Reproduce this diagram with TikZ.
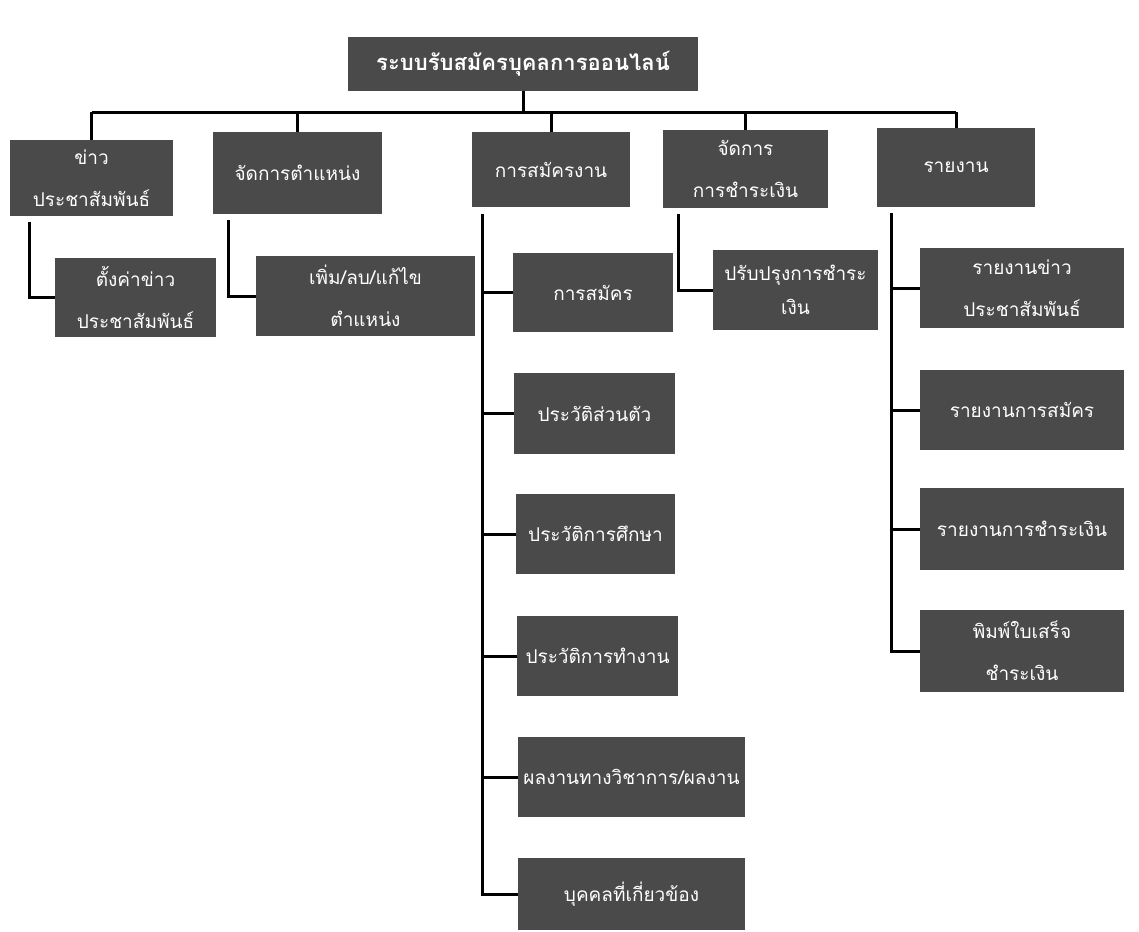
\documentclass[tikz,border=0pt]{standalone}
\usepackage{fontspec}
\newfontfamily\thaifont[Script=Thai]{Loma}
\usetikzlibrary{positioning,calc}
\definecolor{boxgray}{RGB}{74,74,74}
\tikzset{
  box/.style={fill=boxgray, text=white, align=center, inner sep=0pt,
    font=\thaifont\fontsize{19}{42}\selectfont},
  link/.style={draw=black, line width=3pt},
}

\begin{document}
\begin{tikzpicture}[x=1pt,y=-1pt]
    \useasboundingbox (0,0) rectangle (1139,931);

    \node [box, minimum width=350, minimum height=54, font=\thaifont\bfseries\fontsize{22}{26}\selectfont] (0) at (523,64) {ระบบรับสมัครบุคลการออนไลน์};

    \node [box, minimum width=163, minimum height=76] (1) at (91.5,178) {ข่าว\\ประชาสัมพันธ์};
    \node [box, minimum width=169, minimum height=82] (2) at (297.5,173) {จัดการตำแหน่ง};
    \node [box, minimum width=158, minimum height=75] (3) at (551,169.5) {การสมัครงาน};
    \node [box, minimum width=165, minimum height=78] (4) at (745.5,169) {จัดการ\\การชำระเงิน};
    \node [box, minimum width=158, minimum height=79] (5) at (956,167.5) {รายงาน};

    \node [box, minimum width=161, minimum height=79] (11) at (135.5,297.5) {ตั้งค่าข่าว\\ประชาสัมพันธ์};
    \node [box, minimum width=219, minimum height=80] (21) at (365.5,296) {เพิ่ม/ลบ/แก้ไข\\ตำแหน่ง};

    \node [box, minimum width=160, minimum height=79] (31) at (593,292.5) {การสมัคร};
    \node [box, minimum width=161, minimum height=81] (32) at (594.5,413.5) {ประวัติส่วนตัว};
    \node [box, minimum width=159, minimum height=80] (33) at (595.5,534) {ประวัติการศึกษา};
    \node [box, minimum width=161, minimum height=80] (34) at (597.5,656) {ประวัติการทำงาน};
    \node [box, minimum width=227, minimum height=80] (35) at (631.5,777) {ผลงานทางวิชาการ/ผลงาน};
    \node [box, minimum width=227, minimum height=72] (36) at (631.5,894) {บุคคลที่เกี่ยวข้อง};

    \node [box, minimum width=165, minimum height=80, font=\thaifont\fontsize{19}{34}\selectfont] (41) at (795.5,290) {ปรับปรุงการชำระ\\เงิน};

    \node [box, minimum width=204, minimum height=80] (51) at (1022,288) {รายงานข่าว\\ประชาสัมพันธ์};
    \node [box, minimum width=204, minimum height=80] (52) at (1022,410) {รายงานการสมัคร};
    \node [box, minimum width=204, minimum height=82] (53) at (1022,529) {รายงานการชำระเงิน};
    \node [box, minimum width=204, minimum height=82] (54) at (1022,651) {พิมพ์ใบเสร็จ\\ชำระเงิน};

    % top level bus
    \draw [link] (0.south) -- ++(0,21) coordinate (bus);
    \draw [link] (1.north |- bus) -- (5.north |- bus);
    \foreach \n in {1,...,5}
        \draw [link] (\n.north |- bus) -- (\n.north);

    \draw [link] ([xshift=20,yshift=-6]1.south west) |- (11);
    \draw [link] ([xshift=16,yshift=-6]2.south west) |- (21);
    \draw [link] ([xshift=16,yshift=-6]4.south west) |- (41);

    \coordinate (3b) at ([xshift=11,yshift=-7]3.south west);
    \draw [link] (3b) |- (36);
    \foreach \n in {31,...,35}
        \draw [link] (3b |- \n.west) -- (\n.west);

    \coordinate (5b) at ([xshift=15,yshift=-6]5.south west);
    \draw [link] (5b) |- (54);
    \foreach \n in {51,52,53}
        \draw [link] (5b |- \n.west) -- (\n.west);

\end{tikzpicture}
\end{document}
